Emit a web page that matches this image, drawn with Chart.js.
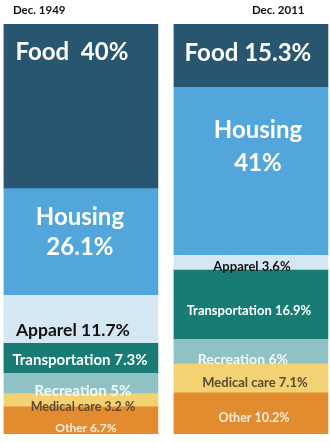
<!DOCTYPE html>
<html>
<head>
<meta charset="utf-8">
<script src="https://cdn.jsdelivr.net/npm/chart.js@4"></script>
<style>
  html, body { margin: 0; padding: 0; background: #fff; }
  #wrap { width: 330px; height: 443px; }
</style>
</head>
<body>
<div id="wrap"><canvas id="budget" width="330" height="443"></canvas></div>
<script>
// data
const periods    = ['Dec. 1949', 'Dec. 2011'];
const categories = ['Food', 'Housing', 'Apparel', 'Transportation', 'Recreation', 'Medical care', 'Other'];
const share1949  = [40, 26.1, 11.7, 7.3, 5, 3.2, 6.7];
const share2011  = [15.3, 41, 3.6, 16.9, 6, 7.1, 10.2];
const text1949   = [['Food  40%'], ['Housing', '26.1%'], ['Apparel 11.7%'], ['Transportation 7.3%'], ['Recreation 5%'], ['Medical care 3.2 %'], ['Other 6.7%']];
const text2011   = [['Food 15.3%'], ['Housing', '41%'], ['Apparel 3.6%'], ['Transportation 16.9%'], ['Recreation 6%'], ['Medical care 7.1%'], ['Other 10.2%']];

// styles
const fills      = ['#285671', '#52a6dc', '#d5e7f3', '#187c74', '#8fc2c4', '#f2d273', '#e28b2f'];
const textColors = ['#ffffff', '#ffffff', '#111111', '#ffffff', '#f4f8f8', '#5a4b36', '#fcefdc'];
// [dx, dy, size, lineGap] per segment, per bar
const place1949  = [[-9, -54, 24, 0], [-1, -9, 24, 30], [-8, 12, 17.5, 0], [-1, 3, 15, 0], [2, 8, 15, 0], [2, 7, 12.5, 0], [5, 8, 12, 0]];
const place2011  = [[-3, -2, 24, 0], [7, -24, 24, 33], [1, 5, 13, 0], [-2, 7, 13, 0], [-8, 9, 14, 0], [4, 5, 13, 0], [3, 5, 12.5, 0]];
const FONT = 'Lato, "Open Sans", sans-serif';

const segLabels = {
  id: 'segLabels',
  afterDatasetsDraw(chart) {
    const c = chart.ctx;
    c.save();
    c.textAlign = 'center';
    c.textBaseline = 'middle';
    chart.data.datasets.forEach((ds, i) => {
      const meta = chart.getDatasetMeta(i);
      meta.data.forEach((bar, j) => {
        const txt = j === 0 ? text1949[i] : text2011[i];
        const p   = j === 0 ? place1949[i] : place2011[i];
        const cx = bar.x + p[0];
        const cy = (bar.y + bar.base) / 2 + p[1];
        c.font = `bold ${p[2]}px ${FONT}`;
        c.fillStyle = textColors[i];
        const start = cy - (txt.length - 1) * p[3] / 2;
        txt.forEach((line, k) => c.fillText(line, cx, start + k * p[3]));
      });
    });
    // period headings
    const first = chart.getDatasetMeta(0).data;
    c.font = `bold 11.5px ${FONT}`;
    c.fillStyle = '#111';
    c.textAlign = 'left';
    c.fillText(periods[0], first[0].x - 68, 10);
    c.fillText(periods[1], first[1].x + 1, 10);
    c.restore();
  }
};

new Chart(document.getElementById('budget'), {
  type: 'bar',
  plugins: [segLabels],
  data: {
    datasets: categories.map((cat, i) => ({
      label: cat,
      data: [{ x: 0, y: share1949[i] }, { x: 1, y: share2011[i] }],
      backgroundColor: fills[i],
      borderWidth: 0,
      barThickness: 154
    }))
  },
  options: {
    responsive: false,
    animation: false,
    layout: { padding: { top: 24, bottom: 9, left: 0, right: 0 } },
    plugins: { legend: { display: false }, tooltip: { enabled: false } },
    scales: {
      x: { type: 'linear', stacked: true, offset: false, min: -0.476, max: 1.465, display: false },
      y: { stacked: true, reverse: true, min: 0, max: 100.1, display: false }
    }
  }
});
</script>
</body>
</html>
